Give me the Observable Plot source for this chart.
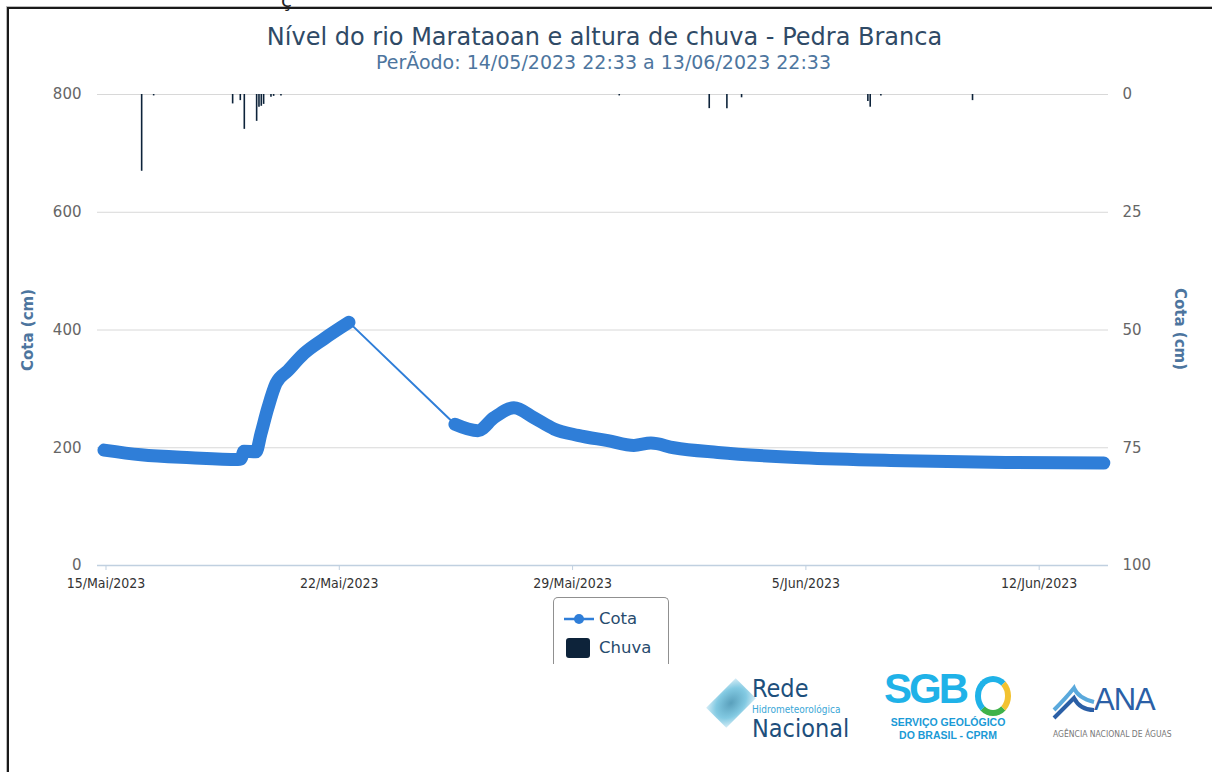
<!DOCTYPE html>
<html>
<head>
<meta charset="utf-8">
<script src="https://cdn.jsdelivr.net/npm/d3@7"></script>
<script src="https://cdn.jsdelivr.net/npm/@observablehq/plot@0.6"></script>
<style>
  html, body { margin: 0; padding: 0; background: #fff; }
  body { width: 1212px; height: 772px; position: relative; overflow: hidden; font-family: "DejaVu Sans", sans-serif; }
  .abs { position: absolute; }
  #frame { left: 7px; top: 7px; width: 1220px; height: 800px; border-top: 2px solid #1a1a1a; border-left: 2px solid #1a1a1a; box-shadow: -1px -1px 0 #bbb; }
  #title { left: 0; width: 1209px; text-align: center; top: 25px; font-size: 24px; line-height: 1; color: #2f4a66; }
  #subtitle { left: 0; width: 1207px; text-align: center; top: 53px; font-size: 19px; line-height: 1; color: #4d759e; }
  .axtitle { font-weight: bold; font-size: 15px; color: #4d759e; white-space: nowrap; line-height: 1; }
  #legend { left: 553px; top: 597px; width: 114px; height: 66px; border: 1px solid #909090; border-bottom: none; border-radius: 5px 5px 0 0; }
  .legitem { position: absolute; left: 0; font-size: 16.5px; color: #274b6d; line-height: 1; }
</style>
</head>
<body>
<div id="frame" class="abs"></div>
<div class="abs" style="left:281px; top:-12px; font-size:20px; color:#222;">ç</div>
<div id="chart" class="abs" style="left:0; top:0;"></div>
<div id="title" class="abs">Nível do rio Marataoan e altura de chuva - Pedra Branca</div>
<div id="subtitle" class="abs">PerÃodo: 14/05/2023 22:33 a 13/06/2023 22:33</div>
<div class="abs axtitle" style="left:28px; top:330px; transform: translate(-50%,-50%) rotate(-90deg);">Cota (cm)</div>
<div class="abs axtitle" style="left:1179px; top:329px; transform: translate(-50%,-50%) rotate(90deg);">Cota (cm)</div>
<div id="legend" class="abs">
  <svg class="abs" style="left:9px; top:14px;" width="32" height="14">
    <line x1="1" y1="7" x2="31" y2="7" stroke="#2f7ed8" stroke-width="2.5"/>
    <circle cx="16" cy="7" r="5" fill="#2f7ed8"/>
  </svg>
  <div class="legitem" style="left:45px; top:13px;">Cota</div>
  <div class="abs" style="left:12px; top:40px; width:24px; height:20px; background:#0d233a; border-radius:3px;"></div>
  <div class="legitem" style="left:45px; top:42px;">Chuva</div>
</div>

<!-- logos approximated with text -->
<div class="abs" style="left:712px; top:684px; width:38px; height:38px; transform: rotate(45deg) scale(0.75,1.1); background: radial-gradient(circle, #3d8fb0 0%, #6cc0dd 60%, #cfeaf5 100%); opacity:0.85;"></div>
<div class="abs" style="left:752px; top:676px; font-family:'Liberation Sans Narrow','DejaVu Sans Condensed',sans-serif; font-size:25px; color:#1d4f7c; line-height:1;">Rede</div>
<div class="abs" style="left:752px; top:705px; font-family:'Liberation Sans Narrow','DejaVu Sans Condensed',sans-serif; font-size:10px; color:#3aa6d6; line-height:1;">Hidrometeorológica</div>
<div class="abs" style="left:752px; top:716px; font-family:'Liberation Sans Narrow','DejaVu Sans Condensed',sans-serif; font-size:25px; color:#1d4f7c; line-height:1;">Nacional</div>

<div class="abs" style="left:884px; top:668px; font-family:'Liberation Sans','DejaVu Sans',sans-serif; font-weight:900; font-size:42px; letter-spacing:-3px; color:#1fb2e8; line-height:1;">SGB</div>
<div class="abs" style="left:975px; top:676px; width:24px; height:28px; border:6px solid #1fb2e8; border-right-color:#f2c230; border-bottom-color:#3fb24a; border-radius:50%;"></div>
<div class="abs" style="left:884px; top:716px; width:128px; text-align:center; font-family:'Liberation Sans','DejaVu Sans',sans-serif; font-weight:bold; font-size:10.5px; color:#1a9ad6; line-height:1.2;">SERVIÇO GEOLÓGICO<br>DO BRASIL - CPRM</div>

<svg class="abs" style="left:1052px; top:680px;" width="44" height="44" viewBox="0 0 44 44">
  <path d="M2 30 Q14 18 22 8 Q26 18 42 22" fill="none" stroke="#5aa9dc" stroke-width="4"/>
  <path d="M2 38 Q14 26 22 18 Q28 30 42 30" fill="none" stroke="#2b5fa6" stroke-width="4"/>
</svg>
<div class="abs" style="left:1094px; top:684px; font-family:'Liberation Sans','DejaVu Sans',sans-serif; font-size:31px; color:#2b5fa6; line-height:1; letter-spacing:-1px;">ANA</div>
<div class="abs" style="left:1053px; top:730px; font-family:'Liberation Sans Narrow','DejaVu Sans Condensed',sans-serif; font-size:8.5px; color:#777; line-height:1; white-space:nowrap;">AGÊNCIA NACIONAL DE ÁGUAS</div>

<script>
// ---- data ----
const cotaTimes = [
  "2023-05-14T22:33Z","2023-05-16T01:12Z","2023-05-17T13:12Z","2023-05-18T23:02Z","2023-05-19T01:12Z",
  "2023-05-19T03:22Z","2023-05-19T12:00Z","2023-05-19T15:36Z","2023-05-19T20:38Z","2023-05-20T02:24Z",
  "2023-05-20T11:02Z","2023-05-20T22:34Z","2023-05-21T12:58Z","2023-05-22T06:58Z",
  "2023-05-25T11:17Z","2023-05-26T03:50Z","2023-05-26T15:22Z","2023-05-27T05:46Z","2023-05-27T20:10Z",
  "2023-05-28T10:34Z","2023-05-29T03:50Z","2023-05-30T01:26Z","2023-05-30T20:10Z","2023-05-31T08:24Z",
  "2023-06-01T00:58Z","2023-06-02T08:38Z","2023-06-04T21:07Z","2023-06-07T22:34Z","2023-06-11T00:00Z",
  "2023-06-13T22:33Z"
];
const cotaValues = [
  196, 188, 183, 180, 181,
  194, 193, 224, 268, 309,
  331, 360, 385, 413,
  240, 229, 251, 268, 251,
  232, 221, 212, 204, 208,
  200, 192, 183, 178, 175,
  174
];
// continuous-record block each reading belongs to (gap 22/05 -> 25/05)
const cotaBlocks = [
  1,1,1,1,1, 1,1,1,1,1, 1,1,1,1,
  2,2,2,2,2, 2,2,2,2,2, 2,2,2,2,2, 2
];

const chuvaTimes = [
  "2023-05-16T01:41Z","2023-05-16T10:19Z","2023-05-18T19:12Z","2023-05-19T00:43Z","2023-05-19T03:36Z",
  "2023-05-19T12:29Z","2023-05-19T14:10Z","2023-05-19T15:50Z","2023-05-19T17:31Z","2023-05-19T22:48Z",
  "2023-05-20T00:43Z","2023-05-20T06:00Z","2023-05-30T09:36Z","2023-06-02T02:24Z","2023-06-02T15:07Z",
  "2023-06-03T01:41Z","2023-06-06T20:38Z","2023-06-06T22:19Z","2023-06-07T06:00Z","2023-06-10T00:00Z"
];
const chuvaValues = [
  16.3, 0.3, 2.0, 1.3, 7.4,
  5.7, 2.7, 2.5, 2.1, 0.6,
  0.4, 0.3, 0.3, 3.0, 3.0,
  0.7, 1.5, 2.7, 0.3, 1.3
];

const cotaTicks = [0, 200, 400, 600, 800];
const chuvaTicks = [0, 25, 50, 75, 100];
const dateTicks = ["2023-05-15T00:00Z","2023-05-22T00:00Z","2023-05-29T00:00Z","2023-06-05T00:00Z","2023-06-12T00:00Z"];
const monthNames = ["Jan","Fev","Mar","Abr","Mai","Jun","Jul","Ago","Set","Out","Nov","Dez"];
const xDomain = ["2023-05-14T17:53Z", "2023-06-14T01:55Z"];

// ---- build tables ----
const cota = cotaTimes.map((t, i) => ({date: new Date(t), value: cotaValues[i], block: cotaBlocks[i]}));
const chuva = chuvaTimes.map((t, i) => ({date: new Date(t), mm: chuvaValues[i]}));

// secondary (reversed) axis: 0 mm at top (800 cm), 100 mm at bottom (0 cm)
const cotaMax = 800, chuvaMax = 100;
const chuvaToCota = mm => cotaMax - mm * cotaMax / chuvaMax;
const cotaToChuva = c => (cotaMax - c) * chuvaMax / cotaMax;

const fmtDate = d => `${d.getUTCDate()}/${monthNames[d.getUTCMonth()]}/${d.getUTCFullYear()}`;

const plot = Plot.plot({
  width: 1212,
  height: 600,
  marginTop: 94,
  marginBottom: 35,
  marginLeft: 97,
  marginRight: 104,
  style: {fontFamily: "DejaVu Sans, sans-serif", background: "transparent", overflow: "visible"},
  x: {type: "utc", domain: xDomain.map(s => new Date(s))},
  y: {domain: [0, 800]},
  marks: [
    Plot.gridY(cotaTicks.filter(d => d > 0), {stroke: "#d8d8d8", strokeOpacity: 1, strokeWidth: 1}),
    Plot.ruleY([0], {stroke: "#C0D0E0", strokeWidth: 1.5}),
    Plot.axisX({
      ticks: dateTicks.map(s => new Date(s)), tickFormat: fmtDate,
      tickSize: 5, tickPadding: 8, stroke: "#C0D0E0", fill: "#333",
      fontSize: 14, fontFamily: "Liberation Sans Narrow, DejaVu Sans Condensed, sans-serif", label: null
    }),
    Plot.axisY({
      anchor: "left", ticks: cotaTicks, tickSize: 0, tickPadding: 16,
      fill: "#666", fontSize: 15, label: null
    }),
    Plot.axisY({
      anchor: "right", ticks: chuvaTicks.map(chuvaToCota), tickFormat: d => String(Math.round(cotaToChuva(d))),
      tickSize: 0, tickPadding: 14, fill: "#666", fontSize: 15, label: null
    }),
    Plot.ruleX(chuva, {x: "date", y1: d => chuvaToCota(0), y2: d => chuvaToCota(d.mm), stroke: "#0d233a", strokeWidth: 1.6}),
    Plot.line(cota, {x: "date", y: "value", stroke: "#2f7ed8", strokeWidth: 2}),
    Plot.line(cota, {x: "date", y: "value", z: "block", stroke: "#2f7ed8", strokeWidth: 13,
      strokeLinecap: "round", strokeLinejoin: "round", curve: "monotone-x"})
  ]
});
document.getElementById("chart").appendChild(plot);
</script>
</body>
</html>
